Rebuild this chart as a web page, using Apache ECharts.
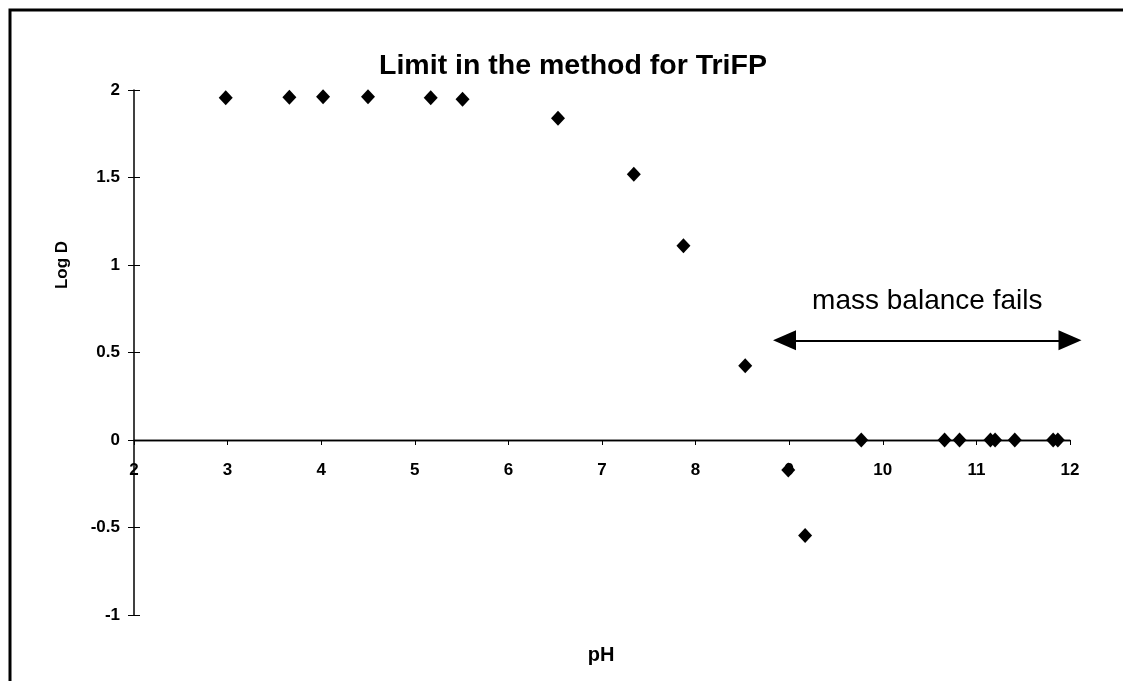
<!DOCTYPE html>
<html>
<head>
<meta charset="utf-8">
<script src="https://cdn.jsdelivr.net/npm/echarts@6/dist/echarts.min.js"></script>
<style>
html,body{margin:0;padding:0;background:#fff;}
#c{width:1123px;height:681px;}
</style>
</head>
<body>
<div id="c"></div>
<script>
const pH = [2.98, 3.66, 4.02, 4.50, 5.17, 5.51, 6.53, 7.34, 7.87, 8.53, 8.99, 9.17, 9.77, 10.66, 10.82, 11.15, 11.20, 11.41, 11.82, 11.87];
const logD = [1.956, 1.958, 1.962, 1.962, 1.956, 1.947, 1.838, 1.518, 1.11, 0.425, -0.171, -0.545, 0, 0, 0, 0, 0, 0, 0, 0];
const arrowPH = [8.95, 12];
const arrowLogD = 0.57;
const annotation = 'mass balance fails';
const titleText = 'Limit in the method for TriFP';
const xName = 'pH';
const yName = 'Log D';

const FONT = '"Liberation Sans", Arial, Helvetica, sans-serif';
const chart = echarts.init(document.getElementById('c'));
const points = pH.map((x, i) => [x, logD[i]]);

const tickLabel = { color: '#000', fontFamily: FONT, fontWeight: 'bold', fontSize: 17 };

chart.setOption({
  animation: false,
  backgroundColor: '#fff',
  title: {
    text: titleText,
    left: 568, top: 47,
    textAlign: 'center',
    textStyle: { color: '#000', fontFamily: FONT, fontWeight: 'bold', fontSize: 28.5 }
  },
  grid: { left: 134, right: 53, top: 90, bottom: 66, containLabel: false },
  xAxis: [
    {
      type: 'value', min: 2, max: 12, interval: 1,
      axisLine: { show: true, onZero: true, lineStyle: { color: '#000', width: 1.3 } },
      axisTick: { show: true, inside: false, length: 5, lineStyle: { color: '#000' } },
      axisLabel: { show: false },
      splitLine: { show: false }
    },
    {
      type: 'value', min: 2, max: 12, interval: 1,
      axisLine: { show: true, onZero: true, lineStyle: { color: '#000', width: 1.3 } },
      axisTick: { show: true, inside: true, length: 5, lineStyle: { color: '#000' } },
      axisLabel: { show: false },
      splitLine: { show: false }
    },
    {
      type: 'value', min: 2, max: 12, interval: 1,
      position: 'bottom', offset: -175,
      axisLine: { show: false, onZero: false },
      axisTick: { show: false },
      axisLabel: Object.assign({ margin: 22 }, tickLabel),
      splitLine: { show: false }
    }
  ],
  yAxis: [
    {
      type: 'value', min: -1, max: 2, interval: 0.5, position: 'left',
      axisLine: { show: true, onZero: false, lineStyle: { color: '#000', width: 1.5 } },
      axisTick: { show: true, inside: false, length: 6, lineStyle: { color: '#000' } },
      axisLabel: Object.assign({ margin: 14 }, tickLabel),
      splitLine: { show: false }
    },
    {
      type: 'value', min: -1, max: 2, interval: 0.5, position: 'left',
      axisLine: { show: false, onZero: false },
      axisTick: { show: true, inside: true, length: 6, lineStyle: { color: '#000' } },
      axisLabel: { show: false },
      splitLine: { show: false }
    }
  ],
  graphic: [
    {
      type: 'rect', silent: true,
      shape: { x: 10, y: 10, width: 1200, height: 800 },
      style: { fill: 'none', stroke: '#000', lineWidth: 3 }
    },
    {
      type: 'text', silent: true, x: 601, y: 655,
      style: { text: xName, textAlign: 'center', textVerticalAlign: 'middle',
               font: 'bold 20px ' + FONT, fill: '#000' }
    },
    {
      type: 'text', silent: true, x: 62, y: 265, rotation: Math.PI / 2,
      style: { text: yName, textAlign: 'center', textVerticalAlign: 'middle',
               font: 'bold 17px ' + FONT, fill: '#000' }
    }
  ],
  series: [
    {
      type: 'scatter',
      xAxisIndex: 0, yAxisIndex: 0,
      data: points,
      symbol: 'diamond',
      symbolSize: [14, 15],
      itemStyle: { color: '#000', opacity: 1 },
      clip: false,
      z: 5,
      markLine: {
        silent: true,
        animation: false,
        symbol: ['triangle', 'triangle'],
        symbolSize: [20, 23],
        lineStyle: { color: '#000', width: 1.8, type: 'solid', opacity: 1 },
        label: {
          show: true, position: 'middle', distance: 25,
          formatter: annotation,
          color: '#000', fontFamily: FONT, fontSize: 28, fontWeight: 'normal'
        },
        emphasis: { disabled: true },
        data: [[
          { coord: [arrowPH[0], arrowLogD] },
          { coord: [arrowPH[1], arrowLogD] }
        ]]
      }
    }
  ]
});
</script>
</body>
</html>
